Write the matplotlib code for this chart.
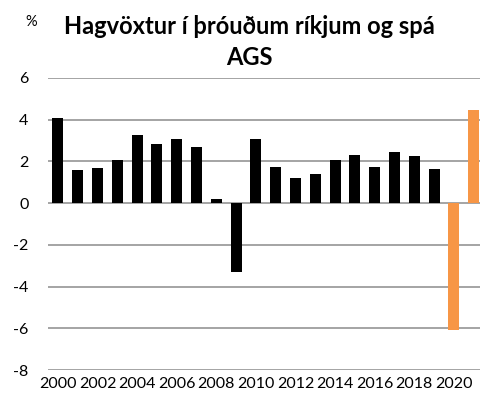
import matplotlib
matplotlib.use("Agg")
import matplotlib.pyplot as plt
import numpy as np

# ── data ───────────────────────────────────────────────────────────────────
years = list(range(2000, 2022))
growth = [4.06, 1.58, 1.70, 2.06, 3.26, 2.83, 3.07, 2.70, 0.22, -3.28,
          3.07, 1.73, 1.20, 1.38, 2.08, 2.30, 1.71, 2.46, 2.27, 1.66,
          -6.1, 4.48]
forecast_from = 2020          # AGS forecast years shown in orange
yticks = [6, 4, 2, 0, -2, -4, -6, -8]
title = "Hagvöxtur í þróuðum ríkjum og spá\nAGS"

# ── colours ────────────────────────────────────────────────────────────────
C_HIST = "#000000"
C_FCST = "#F79646"
C_GRID = "#8c8c8c"

plt.rcParams["font.family"] = ["Lato", "DejaVu Sans"]

fig = plt.figure(figsize=(4.8, 4.01), dpi=100)
ax = fig.add_axes([0.1, 0.0773, 0.9075, 0.7282])

x = np.arange(len(years))
colors = [C_FCST if y >= forecast_from else C_HIST for y in years]
ax.bar(x, growth, width=0.56, color=colors, zorder=3)

ax.set_xlim(-0.5, len(years) - 0.5)
ax.set_ylim(-8, 6)
ax.set_yticks(yticks)
ax.set_yticklabels([str(v) for v in yticks], fontsize=11.5)
ax.yaxis.grid(True, color=C_GRID, lw=1.1, zorder=0)
ax.set_xticks(x[::2])
ax.set_xticklabels([str(y) for y in years[::2]], fontsize=11.5)
ax.tick_params(axis="x", length=0, pad=5)
ax.tick_params(axis="y", length=0, pad=14)
for s in ax.spines.values():
    s.set_visible(False)

fig.text(0.52, 0.962, title, ha="center", va="top", fontsize=17,
         fontweight="bold", linespacing=1.4)
fig.text(0.066, 0.945, "%", ha="center", va="center", fontsize=10.5)

fig.savefig("out.png", dpi=100)
